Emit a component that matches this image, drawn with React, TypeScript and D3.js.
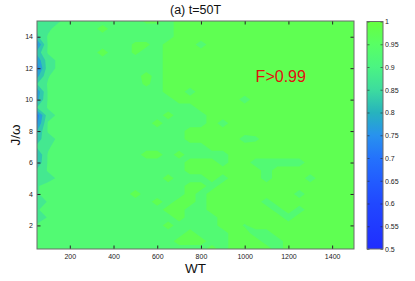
import * as d3 from 'd3'
import { useEffect, useRef } from 'react'

// grid of the simulation: WT along x, J/omega along y
const wtValues = [50, 100, 150, 200, 250, 300, 350, 400, 450, 500, 550, 600, 650, 700, 750, 800, 850, 900, 950, 1000, 1050, 1100, 1150, 1200, 1250, 1300, 1350, 1400, 1450, 1500]
const jValues = [0.5, 1, 1.5, 2, 2.5, 3, 3.5, 4, 4.5, 5, 5.5, 6, 6.5, 7, 7.5, 8, 8.5, 9, 9.5, 10, 10.5, 11, 11.5, 12, 12.5, 13, 13.5, 14, 14.5, 15]

// fidelity F, one row per J/omega, listed from J/omega = 15 (top) down to 0.5 (bottom)
const fidelityRows = [
  [0.87,0.88,0.895,0.92,0.93,0.93,0.93,0.93,0.93,0.93,0.96,0.96,0.93,0.97,0.97,0.97,0.97,0.97,0.97,0.97,0.97,0.97,0.97,0.97,0.97,0.97,0.97,0.97,0.97,0.97],
  [0.86,0.89,0.92,0.93,0.93,0.93,0.97,0.93,0.93,0.93,0.93,0.93,0.93,0.97,0.97,0.97,0.97,0.97,0.97,0.97,0.97,0.97,0.97,0.97,0.97,0.97,0.97,0.97,0.97,0.97],
  [0.84,0.905,0.93,0.93,0.93,0.93,0.93,0.93,0.93,0.93,0.93,0.93,0.93,0.97,0.97,0.97,0.97,0.97,0.97,0.97,0.97,0.97,0.97,0.97,0.97,0.97,0.97,0.97,0.97,0.97],
  [0.74,0.905,0.93,0.93,0.93,0.93,0.93,0.93,0.93,0.96,0.96,0.93,0.97,0.97,0.97,0.93,0.97,0.97,0.97,0.97,0.97,0.97,0.97,0.97,0.97,0.97,0.97,0.97,0.97,0.97],
  [0.82,0.905,0.93,0.93,0.93,0.93,0.97,0.93,0.93,0.96,0.93,0.93,0.97,0.97,0.97,0.97,0.97,0.97,0.97,0.97,0.97,0.97,0.97,0.97,0.97,0.97,0.97,0.97,0.97,0.97],
  [0.76,0.88,0.91,0.93,0.93,0.93,0.93,0.93,0.93,0.93,0.93,0.93,0.97,0.97,0.97,0.97,0.97,0.97,0.97,0.97,0.97,0.97,0.97,0.97,0.97,0.97,0.97,0.97,0.97,0.97],
  [0.72,0.88,0.91,0.93,0.93,0.93,0.93,0.93,0.93,0.93,0.93,0.93,0.97,0.97,0.97,0.97,0.97,0.97,0.97,0.97,0.97,0.97,0.97,0.97,0.97,0.97,0.97,0.97,0.97,0.97],
  [0.78,0.895,0.93,0.93,0.93,0.93,0.93,0.93,0.93,0.93,0.97,0.93,0.97,0.97,0.97,0.97,0.97,0.97,0.97,0.97,0.97,0.97,0.97,0.97,0.97,0.97,0.97,0.97,0.97,0.97],
  [0.85,0.905,0.93,0.93,0.93,0.93,0.93,0.93,0.93,0.93,0.96,0.93,0.97,0.97,0.97,0.97,0.97,0.97,0.97,0.97,0.97,0.97,0.97,0.97,0.97,0.97,0.97,0.97,0.97,0.97],
  [0.76,0.905,0.93,0.93,0.93,0.93,0.93,0.93,0.93,0.93,0.93,0.93,0.97,0.97,0.93,0.97,0.97,0.97,0.97,0.97,0.97,0.97,0.97,0.97,0.97,0.97,0.97,0.97,0.97,0.97],
  [0.78,0.905,0.93,0.93,0.93,0.93,0.93,0.93,0.93,0.93,0.93,0.93,0.93,0.97,0.97,0.97,0.97,0.97,0.97,0.93,0.97,0.97,0.97,0.97,0.97,0.97,0.97,0.97,0.97,0.97],
  [0.85,0.905,0.93,0.93,0.93,0.93,0.93,0.93,0.93,0.93,0.93,0.93,0.93,0.93,0.93,0.97,0.97,0.97,0.97,0.97,0.97,0.97,0.97,0.97,0.97,0.97,0.97,0.97,0.97,0.97],
  [0.72,0.88,0.91,0.93,0.93,0.93,0.93,0.93,0.93,0.93,0.93,0.93,0.97,0.93,0.93,0.93,0.97,0.97,0.97,0.97,0.97,0.97,0.97,0.97,0.97,0.97,0.97,0.97,0.97,0.97],
  [0.74,0.905,0.93,0.93,0.93,0.93,0.93,0.93,0.93,0.93,0.93,0.97,0.93,0.93,0.93,0.93,0.97,0.93,0.97,0.97,0.97,0.97,0.97,0.97,0.97,0.97,0.97,0.97,0.97,0.97],
  [0.80,0.905,0.93,0.93,0.93,0.93,0.93,0.93,0.93,0.93,0.93,0.93,0.93,0.93,0.97,0.97,0.97,0.97,0.97,0.97,0.97,0.97,0.97,0.97,0.97,0.97,0.97,0.97,0.97,0.97],
  [0.83,0.88,0.91,0.93,0.93,0.93,0.93,0.93,0.93,0.93,0.93,0.93,0.93,0.93,0.97,0.97,0.97,0.97,0.97,0.93,0.94,0.97,0.97,0.97,0.97,0.97,0.97,0.97,0.97,0.97],
  [0.86,0.89,0.93,0.93,0.93,0.93,0.93,0.93,0.93,0.93,0.93,0.93,0.93,0.93,0.93,0.93,0.97,0.97,0.97,0.97,0.97,0.97,0.97,0.97,0.97,0.97,0.97,0.97,0.97,0.97],
  [0.80,0.905,0.93,0.93,0.93,0.93,0.93,0.93,0.93,0.93,0.97,0.97,0.93,0.97,0.93,0.93,0.93,0.93,0.97,0.97,0.97,0.97,0.97,0.97,0.97,0.97,0.97,0.97,0.97,0.97],
  [0.81,0.905,0.93,0.93,0.93,0.93,0.93,0.93,0.93,0.93,0.93,0.93,0.93,0.93,0.97,0.97,0.97,0.93,0.97,0.97,0.93,0.93,0.93,0.93,0.93,0.97,0.97,0.97,0.97,0.97],
  [0.86,0.905,0.93,0.93,0.93,0.93,0.93,0.93,0.93,0.93,0.93,0.93,0.93,0.93,0.97,0.97,0.97,0.97,0.97,0.97,0.97,0.93,0.97,0.97,0.97,0.97,0.97,0.97,0.97,0.97],
  [0.86,0.88,0.91,0.93,0.93,0.93,0.93,0.93,0.93,0.93,0.93,0.93,0.97,0.93,0.93,0.93,0.97,0.93,0.97,0.97,0.97,0.93,0.97,0.97,0.97,0.93,0.97,0.97,0.97,0.97],
  [0.895,0.92,0.93,0.93,0.93,0.93,0.93,0.93,0.93,0.93,0.93,0.93,0.93,0.93,0.97,0.97,0.93,0.97,0.97,0.97,0.97,0.97,0.97,0.97,0.97,0.97,0.97,0.97,0.97,0.97],
  [0.895,0.92,0.93,0.93,0.93,0.93,0.93,0.93,0.93,0.97,0.93,0.93,0.93,0.93,0.97,0.93,0.97,0.97,0.97,0.97,0.97,0.97,0.97,0.97,0.93,0.97,0.97,0.97,0.97,0.97],
  [0.86,0.905,0.93,0.93,0.93,0.93,0.93,0.93,0.93,0.93,0.93,0.97,0.93,0.97,0.97,0.93,0.97,0.97,0.97,0.97,0.97,0.93,0.97,0.97,0.97,0.97,0.97,0.97,0.97,0.97],
  [0.895,0.92,0.93,0.93,0.93,0.93,0.93,0.93,0.93,0.93,0.93,0.93,0.97,0.97,0.93,0.93,0.97,0.97,0.97,0.97,0.97,0.97,0.93,0.97,0.93,0.97,0.97,0.97,0.97,0.97],
  [0.86,0.905,0.93,0.93,0.93,0.93,0.93,0.93,0.93,0.93,0.93,0.93,0.93,0.97,0.93,0.93,0.93,0.97,0.97,0.97,0.97,0.97,0.97,0.93,0.97,0.97,0.97,0.97,0.97,0.97],
  [0.91,0.93,0.93,0.93,0.93,0.93,0.93,0.93,0.93,0.93,0.93,0.93,0.97,0.93,0.93,0.93,0.93,0.97,0.97,0.945,0.97,0.97,0.97,0.97,0.97,0.97,0.97,0.97,0.97,0.97],
  [0.92,0.93,0.93,0.93,0.93,0.93,0.93,0.93,0.93,0.93,0.93,0.93,0.93,0.93,0.97,0.93,0.93,0.93,0.97,0.97,0.93,0.93,0.97,0.97,0.97,0.97,0.97,0.97,0.97,0.97],
  [0.93,0.93,0.93,0.93,0.93,0.93,0.93,0.93,0.93,0.93,0.93,0.93,0.93,0.97,0.97,0.97,0.93,0.93,0.97,0.97,0.97,0.93,0.93,0.97,0.97,0.97,0.97,0.97,0.97,0.97],
  [0.93,0.93,0.93,0.93,0.93,0.93,0.93,0.93,0.93,0.93,0.93,0.93,0.93,0.93,0.93,0.93,0.97,0.93,0.97,0.97,0.97,0.97,0.93,0.97,0.97,0.97,0.97,0.97,0.97,0.97],
]

const levels = [0.5, 0.55, 0.6, 0.65, 0.7, 0.75, 0.8, 0.85, 0.9, 0.95]
const xTicks = [200, 400, 600, 800, 1000, 1200, 1400]
const yTicks = [2, 4, 6, 8, 10, 12, 14]
const cbTicks = [0.5, 0.55, 0.6, 0.65, 0.7, 0.75, 0.8, 0.85, 0.9, 0.95, 1]

// colormap (blue -> green)
const cmapValues = [0.5, 0.6, 0.65, 0.7, 0.75, 0.8, 0.85, 0.9, 0.95, 1]
const cmapColors = ['#1f2dff', '#2148ff', '#225cff', '#2472fc', '#2892ee', '#27b3bd', '#3ddc9e', '#4bf482', '#58ff64', '#66ff40']

const W = 415
const H = 281
const plot = { left: 37, top: 21, right: 354, bottom: 249 }
const cb = { left: 367, right: 383, top: 21.5, bottom: 249 }
const font = 'Liberation Sans, Arial, Helvetica, sans-serif'

export default function App() {
  const svgRef = useRef<SVGSVGElement | null>(null)

  useEffect(() => {
    if (!svgRef.current) return
    const svg = d3.select(svgRef.current)
    svg.selectAll('*').remove()

    const x = d3.scaleLinear().domain([50, 1500]).range([plot.left, plot.right])
    const y = d3.scaleLinear().domain([0.5, 15]).range([plot.bottom, plot.top])
    const cmap = d3.scaleLinear<string>().domain(cmapValues).range(cmapColors).interpolate(d3.interpolateRgb)

    const nx = wtValues.length
    const ny = jValues.length
    const values = fidelityRows.slice().reverse().flat()
    const contours = d3.contours().size([nx, ny]).thresholds(levels)(values)

    // grid index -> data
    const gx = d3.scaleLinear().domain([0.5, nx - 0.5]).range([wtValues[0], wtValues[nx - 1]])
    const gy = d3.scaleLinear().domain([0.5, ny - 0.5]).range([jValues[0], jValues[ny - 1]])
    const proj = d3.geoTransform({
      point(px, py) {
        this.stream.point(x(gx(px)), y(gy(py)))
      },
    })
    const path = d3.geoPath(proj)

    const defs = svg.append('defs')
    defs.append('clipPath').attr('id', 'plot-clip')
      .append('rect')
      .attr('x', plot.left).attr('y', plot.top)
      .attr('width', plot.right - plot.left).attr('height', plot.bottom - plot.top)

    svg.append('g')
      .attr('clip-path', 'url(#plot-clip)')
      .selectAll('path')
      .data(contours)
      .join('path')
      .attr('d', (c) => path(c as any))
      .attr('fill', (c) => cmap(c.value + 0.025))
      .attr('stroke', 'none')

    // axes, matlab style ticks inside
    const tickColor = '#262626'
    const fmt = d3.format('d')
    const gBottom = svg.append('g')
      .attr('transform', `translate(0,${plot.bottom})`)
      .call(d3.axisBottom(x).tickValues(xTicks).tickSizeInner(-3.5).tickSizeOuter(0).tickPadding(5).tickFormat((d) => fmt(d as number)))
    const gLeft = svg.append('g')
      .attr('transform', `translate(${plot.left},0)`)
      .call(d3.axisLeft(y).tickValues(yTicks).tickSizeInner(-3.5).tickSizeOuter(0).tickPadding(4).tickFormat((d) => fmt(d as number)))
    const gTop = svg.append('g')
      .attr('transform', `translate(0,${plot.top})`)
      .call(d3.axisTop(x).tickValues(xTicks).tickSizeInner(-3.5).tickSizeOuter(0).tickFormat(() => ''))
    const gRight = svg.append('g')
      .attr('transform', `translate(${plot.right},0)`)
      .call(d3.axisRight(y).tickValues(yTicks).tickSizeInner(-3.5).tickSizeOuter(0).tickFormat(() => ''))

    for (const g of [gBottom, gLeft, gTop, gRight]) {
      g.select('.domain').remove()
      g.selectAll('line').attr('stroke', tickColor)
      g.selectAll('text').attr('font-family', font).attr('font-size', 7).attr('fill', '#1a1a1a')
    }

    svg.append('rect')
      .attr('x', plot.left).attr('y', plot.top)
      .attr('width', plot.right - plot.left).attr('height', plot.bottom - plot.top)
      .attr('fill', 'none').attr('stroke', '#6b6b6b').attr('stroke-width', 1)

    // colorbar
    const cbScale = d3.scaleLinear().domain([0.5, 1]).range([cb.bottom, cb.top])
    const grad = defs.append('linearGradient').attr('id', 'cb-grad')
      .attr('x1', 0).attr('y1', 1).attr('x2', 0).attr('y2', 0)
    grad.selectAll('stop')
      .data(cmapValues)
      .join('stop')
      .attr('offset', (v) => (v - 0.5) / 0.5)
      .attr('stop-color', (v) => cmap(v))
    svg.append('rect')
      .attr('x', cb.left).attr('y', cb.top)
      .attr('width', cb.right - cb.left).attr('height', cb.bottom - cb.top)
      .attr('fill', 'url(#cb-grad)')

    const cbRight = svg.append('g')
      .attr('transform', `translate(${cb.right},0)`)
      .call(d3.axisRight(cbScale).tickValues(cbTicks).tickSizeInner(-2.5).tickSizeOuter(0).tickPadding(2)
        .tickFormat((d) => d3.format('~g')(d as number)))
    const cbLeft = svg.append('g')
      .attr('transform', `translate(${cb.left},0)`)
      .call(d3.axisLeft(cbScale).tickValues(cbTicks).tickSizeInner(-2.5).tickSizeOuter(0).tickFormat(() => ''))
    for (const g of [cbRight, cbLeft]) {
      g.select('.domain').remove()
      g.selectAll('line').attr('stroke', tickColor).attr('stroke-opacity', 0.6)
      g.selectAll('text').attr('font-family', font).attr('font-size', 7).attr('fill', '#1a1a1a')
    }
    svg.append('rect')
      .attr('x', cb.left).attr('y', cb.top)
      .attr('width', cb.right - cb.left).attr('height', cb.bottom - cb.top)
      .attr('fill', 'none').attr('stroke', '#6b6b6b').attr('stroke-width', 1)

    // labels
    svg.append('text')
      .attr('x', (plot.left + plot.right) / 2).attr('y', 13.5)
      .attr('text-anchor', 'middle')
      .attr('font-family', font).attr('font-size', 12.5).attr('fill', '#111')
      .text('(a) t=50T')
    svg.append('text')
      .attr('x', (plot.left + plot.right) / 2).attr('y', 273)
      .attr('text-anchor', 'middle')
      .attr('font-family', font).attr('font-size', 13.5).attr('fill', '#111')
      .text('WT')
    svg.append('text')
      .attr('transform', `translate(19.5,${(plot.top + plot.bottom) / 2}) rotate(-90)`)
      .attr('text-anchor', 'middle')
      .attr('font-family', font).attr('font-size', 13.5).attr('fill', '#111')
      .text('J/ω')
    svg.append('text')
      .attr('x', x(1050)).attr('y', y(11.4))
      .attr('dominant-baseline', 'middle')
      .attr('font-family', font).attr('font-size', 16).attr('fill', '#e01010')
      .text('F>0.99')
  }, [])

  return (
    <svg
      ref={svgRef}
      width={W}
      height={H}
      style={{ position: 'absolute', left: 0, top: 0, background: '#fff' }}
    />
  )
}
